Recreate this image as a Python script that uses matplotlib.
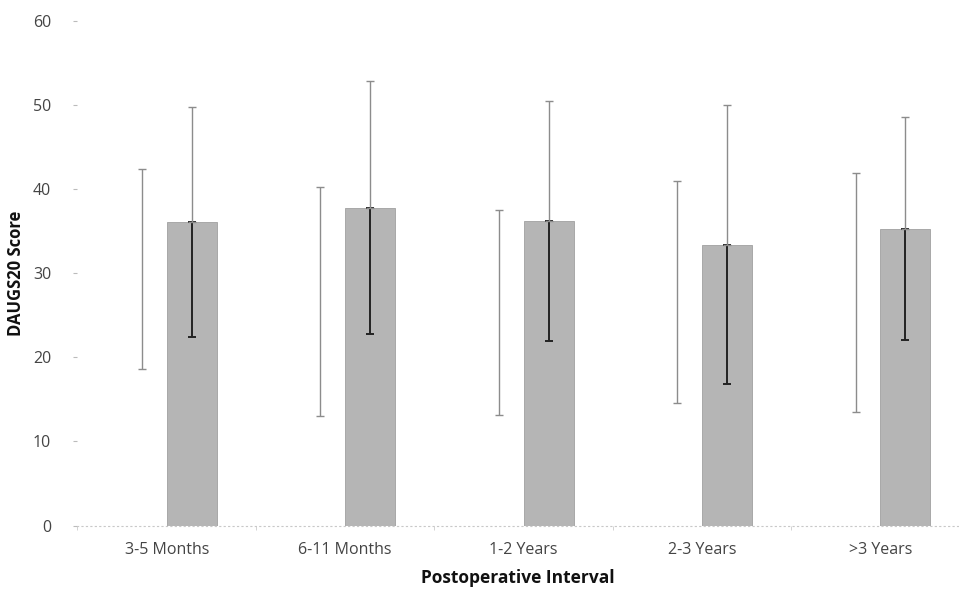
import matplotlib
matplotlib.use("Agg")
import matplotlib.pyplot as plt
import numpy as np

plt.rcParams["font.family"] = ["Open Sans", "DejaVu Sans"]

categories = ["3-5 Months", "6-11 Months", "1-2 Years", "2-3 Years", ">3 Years"]
# first series: white (invisible) bars, only error bars show
left_mean = [30.5, 26.6, 25.3, 27.8, 27.7]
left_err = [11.9, 13.6, 12.2, 13.2, 14.2]
# second series: grey bars
right_mean = [36.1, 37.8, 36.2, 33.4, 35.3]
right_err = [13.7, 15.0, 14.3, 16.6, 13.3]

x = np.arange(len(categories))
w = 0.28

fig = plt.figure(figsize=(9.59, 5.92), dpi=100)
ax = fig.add_axes([0.0808, 0.1123, 0.9192, 0.8524])

ax.bar(x - w / 2, left_mean, w, color="white", edgecolor="none", zorder=1)
ax.bar(x + w / 2, right_mean, w, color="#b5b5b5", edgecolor="#a0a0a0",
       linewidth=0.6, zorder=1)

ax.errorbar(x - w / 2, left_mean, yerr=left_err, fmt="none", ecolor="#8c8c8c",
            elinewidth=1.0, capsize=3, capthick=1.0, zorder=3)
# lower part of the grey-bar error sits over the bar and reads darker
ax.errorbar(x + w / 2, right_mean, yerr=[right_err, np.zeros(len(x))], fmt="none",
            ecolor="#222222", elinewidth=1.4, capsize=3, capthick=1.4, zorder=3)
ax.errorbar(x + w / 2, right_mean, yerr=[np.zeros(len(x)), right_err], fmt="none",
            ecolor="#8c8c8c", elinewidth=1.0, capsize=3, capthick=1.0, zorder=3)

ax.set_ylim(0, 60)
ax.set_xlim(-0.5, 4.44)
ax.set_yticks(range(0, 61, 10))
ax.set_xticks(x)
ax.set_xticklabels(categories)
ax.set_xticks(np.arange(-0.5, 4.5, 1.0), minor=True)

for s in ("top", "right", "left"):
    ax.spines[s].set_visible(False)
ax.spines["bottom"].set_color("#c8c8c8")
ax.spines["bottom"].set_linestyle((0, (1, 3)))
ax.spines["bottom"].set_linewidth(0.8)

ax.tick_params(axis="y", length=3, color="#bbbbbb", pad=16, labelsize=11.5,
               labelcolor="#444444")
ax.tick_params(axis="x", which="major", length=0, pad=12, labelsize=11.5,
               labelcolor="#444444")
ax.tick_params(axis="x", which="minor", length=3, color="#cccccc")

ax.set_ylabel("DAUGS20 Score", fontsize=12, fontweight="bold", color="#111111")
ax.set_xlabel("Postoperative Interval", fontsize=12.5, fontweight="bold",
              color="#111111", labelpad=8)
ax.yaxis.set_label_coords(-0.0596, 0.5)

fig.savefig("out.png", dpi=100)
